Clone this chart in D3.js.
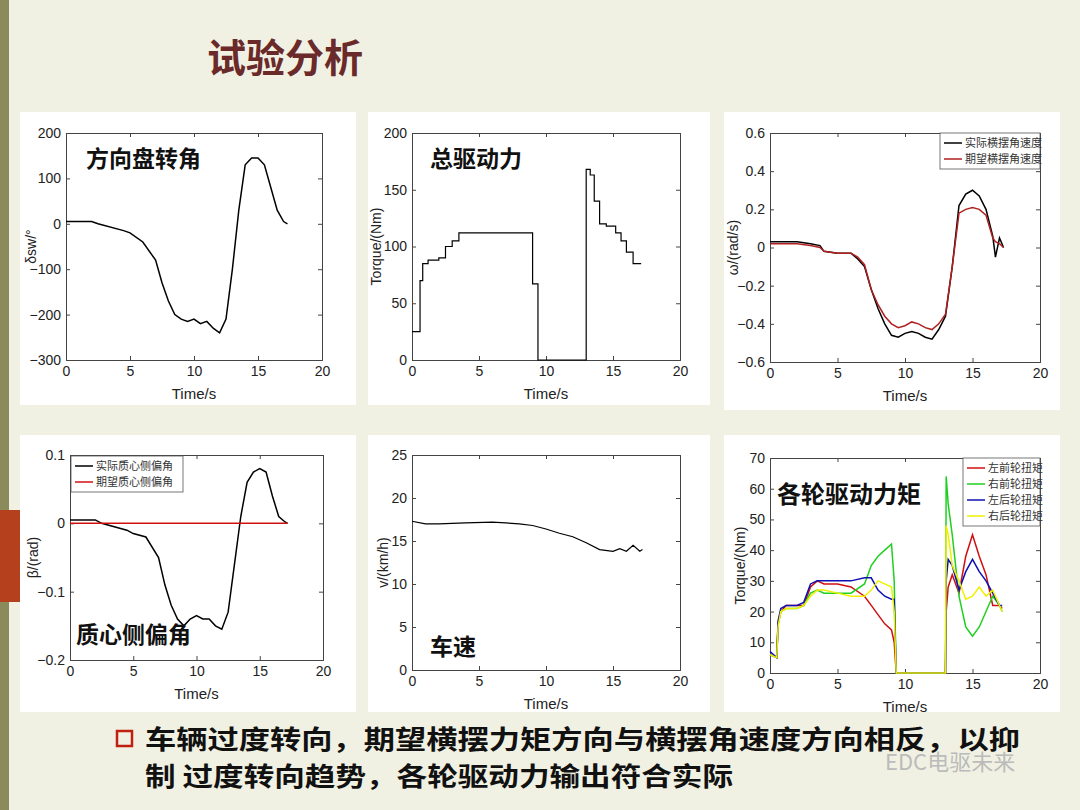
<!DOCTYPE html>
<html><head><meta charset="utf-8">
<script src="https://cdn.jsdelivr.net/npm/d3@7"></script>
<style>body{margin:0}svg{display:block}</style></head>
<body><div id="slide"></div>
<script>
// ---- data ----
const steerT = [0,2,2.5,4.5,5,6,7,7.5,8,8.5,9,9.5,10,10.5,11,11.5,12,12.5,13,13.5,14,14.5,15,15.5,16,16.5,17,17.3];
const steerV = [5,5,0,-15,-20,-40,-80,-130,-170,-200,-210,-215,-210,-220,-215,-230,-240,-210,-100,30,130,145,145,130,80,30,5,0];

const torqueT = [0,0.6,0.6,0.8,0.8,1.2,1.2,2,2,2.5,2.5,3,3,3.5,3.5,9,9,9.4,9.4,13,13,13.3,13.3,13.6,13.6,14,14,14.5,14.5,15.2,15.2,15.6,15.6,16,16,16.5,16.5,17.1];
const torqueV = [25,25,70,70,85,85,88,88,90,90,100,100,105,105,112,112,67,67,0,0,168,168,163,163,140,140,120,120,118,118,112,112,105,105,95,95,85,85];

const yawT = [0,1,2,3,3.7,4,5,6,6.5,7,7.5,8,8.5,9,9.5,10,10.5,11,11.5,12,12.5,13,13.5,14,14.5,15,15.5,16,16.5,16.7,17,17.3];
const yawActual = [.03,.03,.03,.02,.01,-.02,-.03,-.03,-.06,-.1,-.22,-.32,-.4,-.46,-.47,-.45,-.44,-.45,-.47,-.48,-.43,-.36,-.1,.22,.28,.3,.27,.2,.06,-.05,.05,0];
const yawDesired = [.02,.02,.02,.01,0,-.02,-.03,-.03,-.05,-.09,-.22,-.3,-.36,-.4,-.42,-.41,-.39,-.4,-.42,-.43,-.4,-.35,-.1,.18,.2,.21,.2,.17,.05,.03,.02,0];

const betaT = [0,2,2.5,4.5,5,6,7,7.5,8,8.5,9,9.5,10,10.5,11,11.5,12,12.5,13,13.5,14,14.5,15,15.5,16,16.5,17,17.2];
const betaActual = [.005,.005,0,-.01,-.015,-.02,-.05,-.09,-.12,-.14,-.15,-.14,-.135,-.14,-.14,-.15,-.155,-.13,-.06,.01,.06,.075,.08,.075,.04,.01,.002,0];
const betaDesired = betaT.map(() => 0);

const speedT = [0,1,2,4,6,8,9,10,11,12,13,14,15,15.5,16,16.5,17,17.2];
const speedV = [17.3,17.0,17.0,17.1,17.2,17.0,16.8,16.4,15.9,15.5,14.8,14.0,13.8,14.1,13.8,14.5,13.8,14.0];

const wheelT = [0,0.5,0.6,0.8,1.2,2,2.5,3,3.5,4,5,6,7,7.5,8,8.5,9,9.2,9.35,9.4,13,13.05,13.2,13.5,14,14.5,15,15.5,16,16.5,17,17.2];
const wheelFL = [6,5,16,20,22,22,22,28,30,29,29,28,25,22,19,16,14,10,0,0,0,20,28,32,26,38,45,38,32,22,22,21];
const wheelFR = [6,5,16,20,21,21,22,26,27,26,26,26,29,35,38,40,42,30,0,0,0,64,55,45,25,15,12,15,20,25,22,20];
const wheelRL = [7,5,17,21,22,22,23,29,30,30,30,30,31,31,27,25,24,24,0,0,0,30,37,35,27,33,37,33,30,26,22,22];
const wheelRR = [6,5,15,20,21,21,22,25,27,27,26,25,25,27,30,29,28,20,0,0,0,48,45,35,30,24,25,28,25,27,22,20];

const timeTicks = [0,5,10,15,20];

const W = 1080, H = 810;
const svg = d3.select("#slide").append("svg").attr("width", W).attr("height", H);
svg.append("rect").attr("width", W).attr("height", H).attr("fill", "#f1f1e3");
svg.append("rect").attr("x", 0).attr("width", 9).attr("height", H).attr("fill", "#8a8a5a");
svg.append("rect").attr("x", 0).attr("y", 510).attr("width", 20).attr("height", 92).attr("fill", "#b5401e");

svg.append("text").attr("x", 207).attr("y", 72).text("试验分析")
  .style("font", "bold 39px 'Noto Sans CJK SC'").attr("fill", "#6a2a2a");

function panel(o) {
  const g = svg.append("g");
  g.append("rect").attr("x", o.box[0]).attr("y", o.box[1]).attr("width", o.box[2]).attr("height", o.box[3]).attr("fill", "#fff");
  const [x0, y0, x1, y1] = o.plot;
  const x = d3.scaleLinear().domain([0, 20]).range([x0, x1]);
  const y = d3.scaleLinear().domain(o.yDomain).range([y1, y0]);
  const font = "14px 'Liberation Sans', Arial";
  g.append("g").attr("transform", `translate(0,${y1})`)
    .call(d3.axisBottom(x).tickValues(timeTicks).tickSize(-4).tickPadding(6))
    .call(a => a.selectAll("text").style("font", font).attr("fill", "#222"));
  g.append("g").attr("transform", `translate(${x0},0)`)
    .call(d3.axisLeft(y).tickValues(o.yTicks).tickSize(-4).tickPadding(5).tickFormat(d3.format(o.fmt || "")))
    .call(a => a.selectAll("text").style("font", font).attr("fill", "#222"));
  g.append("g").attr("transform", `translate(0,${y0})`)
    .call(d3.axisTop(x).tickValues(timeTicks).tickSize(-4).tickFormat(""));
  g.append("g").attr("transform", `translate(${x1},0)`)
    .call(d3.axisRight(y).tickValues(o.yTicks).tickSize(-4).tickFormat(""));
  g.selectAll(".domain").attr("stroke", "#444");
  g.selectAll(".tick line").attr("stroke", "#444");
  g.append("text").attr("x", (x0 + x1) / 2).attr("y", y1 + 39).attr("text-anchor", "middle")
    .text("Time/s").style("font", "15px 'Liberation Sans', Arial").attr("fill", "#222");
  g.append("text").attr("transform", `translate(${o.ylx},${(y0 + y1) / 2}) rotate(-90)`)
    .attr("text-anchor", "middle").text(o.ylabel).style("font", "14px 'Liberation Sans', Arial").attr("fill", "#222");
  const line = d3.line().x(d => x(d[0])).y(d => y(d[1]));
  o.series.forEach(s => {
    g.append("path").datum(s.t.map((t, i) => [t, s.v[i]])).attr("d", line)
      .attr("fill", "none").attr("stroke", s.color).attr("stroke-width", s.w || 1.5);
  });
  if (o.legend) {
    const [lx, ly, lw] = o.legend;
    const rh = 16;
    g.append("rect").attr("x", lx).attr("y", ly).attr("width", lw).attr("height", rh * o.series.length + 4)
      .attr("fill", "#fff").attr("stroke", "#555").attr("stroke-width", 0.8);
    o.series.forEach((s, i) => {
      const yy = ly + 10 + i * rh;
      g.append("line").attr("x1", lx + 4).attr("x2", lx + 22).attr("y1", yy).attr("y2", yy)
        .attr("stroke", s.color).attr("stroke-width", 1.5);
      g.append("text").attr("x", lx + 25).attr("y", yy + 4).text(s.name)
        .style("font", "11px 'Noto Sans CJK SC'").attr("fill", "#333");
    });
  }
  if (o.title) {
    g.append("text").attr("x", o.title[0]).attr("y", o.title[1]).text(o.title[2])
      .style("font", `bold ${o.title[3] || 23}px 'Noto Sans CJK SC'`).attr("fill", "#111");
  }
}

panel({box: [20, 112, 336, 293], plot: [66, 133, 322, 360], yDomain: [-300, 200],
  yTicks: [-300, -200, -100, 0, 100, 200], ylabel: "δsw/°", ylx: 36,
  series: [{t: steerT, v: steerV, color: "#000"}], title: [86, 167, "方向盘转角"]});

panel({box: [368, 112, 342, 293], plot: [412, 133, 680, 360], yDomain: [0, 200],
  yTicks: [0, 50, 100, 150, 200], ylabel: "Torque/(Nm)", ylx: 381,
  series: [{t: torqueT, v: torqueV, color: "#000", w: 1.2}], title: [430, 167, "总驱动力"]});

panel({box: [724, 112, 336, 298], plot: [770, 133, 1040, 362], yDomain: [-0.6, 0.6],
  yTicks: [-0.6, -0.4, -0.2, 0, 0.2, 0.4, 0.6], fmt: "", ylabel: "ω/(rad/s)", ylx: 738,
  series: [{t: yawT, v: yawActual, color: "#000", name: "实际横摆角速度"},
           {t: yawT, v: yawDesired, color: "#b02020", name: "期望横摆角速度"}],
  legend: [940, 133, 100]});

panel({box: [20, 435, 336, 277], plot: [70, 455, 323, 660], yDomain: [-0.2, 0.1],
  yTicks: [-0.2, -0.1, 0, 0.1], ylabel: "β/(rad)", ylx: 38,
  series: [{t: betaT, v: betaActual, color: "#000", name: "实际质心侧偏角"},
           {t: betaT, v: betaDesired, color: "#d01010", name: "期望质心侧偏角"}],
  legend: [71, 456, 112], title: [76, 643, "质心侧偏角"]});

panel({box: [368, 435, 342, 277], plot: [412, 455, 680, 670], yDomain: [0, 25],
  yTicks: [0, 5, 10, 15, 20, 25], ylabel: "v/(km/h)", ylx: 388,
  series: [{t: speedT, v: speedV, color: "#000", w: 1.2}], title: [430, 655, "车速"]});

panel({box: [724, 435, 336, 277], plot: [770, 458, 1040, 673], yDomain: [0, 70],
  yTicks: [0, 10, 20, 30, 40, 50, 60, 70], ylabel: "Torque/(Nm)", ylx: 745,
  series: [{t: wheelT, v: wheelFL, color: "#d01010", name: "左前轮扭矩"},
           {t: wheelT, v: wheelFR, color: "#20d020", name: "右前轮扭矩"},
           {t: wheelT, v: wheelRL, color: "#1010b0", name: "左后轮扭矩"},
           {t: wheelT, v: wheelRR, color: "#f0f000", name: "右后轮扭矩"}],
  legend: [963, 458, 77], title: [777, 503, "各轮驱动力矩", 24]});

// bottom text
svg.append("rect").attr("x", 117).attr("y", 731).attr("width", 15).attr("height", 15)
  .attr("fill", "none").attr("stroke", "#c02010").attr("stroke-width", 2.5);
const bt = svg.append("text").style("font", "bold 26px 'Noto Sans CJK SC'").attr("fill", "#111");
bt.append("tspan").attr("x", 145).attr("y", 749).attr("textLength", 875).attr("lengthAdjust", "spacingAndGlyphs")
  .text("车辆过度转向，期望横摆力矩方向与横摆角速度方向相反，以抑");
bt.append("tspan").attr("x", 145).attr("y", 786).attr("textLength", 588).attr("lengthAdjust", "spacingAndGlyphs")
  .text("制  过度转向趋势，各轮驱动力输出符合实际");
svg.append("text").attr("x", 885).attr("y", 770).text("EDC电驱未来")
  .style("font", "22px 'Noto Sans CJK SC'").attr("fill", "#bbb");
</script></body></html>
